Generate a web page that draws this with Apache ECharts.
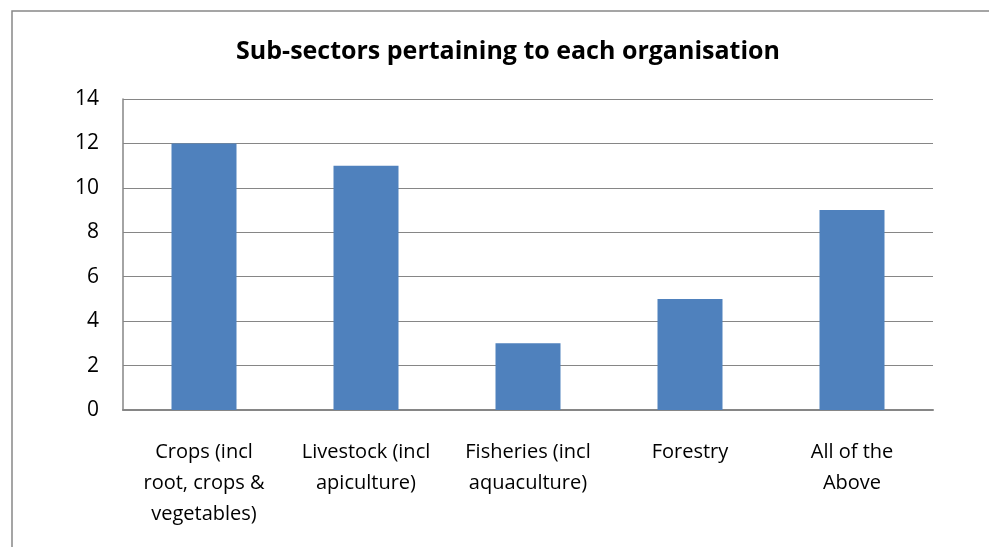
<!DOCTYPE html>
<html>
<head>
<meta charset="utf-8">
<script src="https://cdn.jsdelivr.net/npm/echarts@6/dist/echarts.min.js"></script>
<style>
  html, body { margin: 0; padding: 0; background: #fff; }
  #chart { width: 989px; height: 547px; }
</style>
</head>
<body>
<div id="chart"></div>
<script>
  // chart data
  const categories = [
    'Crops (incl\nroot, crops &\nvegetables)',
    'Livestock (incl\napiculture)',
    'Fisheries (incl\naquaculture)',
    'Forestry',
    'All of the\nAbove',
  ];
  const counts = [12, 11, 3, 5, 9];
  const titleText = 'Sub-sectors pertaining to each organisation';

  const chart = echarts.init(document.getElementById('chart'));

  const option = {
    animation: false,
    title: {
      text: titleText,
      left: 503,
      textAlign: 'center',
      top: 34,
      textStyle: {
        fontFamily: 'Open Sans',
        fontSize: 25,
        fontWeight: 'bold',
        color: '#000',
      },
    },
    graphic: [
      {
        type: 'rect',
        shape: { x: 12, y: 11, width: 1000, height: 600 },
        style: { fill: 'none', stroke: '#888', lineWidth: 1.5 },
        silent: true,
      },
    ],
    grid: {
      left: 123,
      right: 56,
      top: 99,
      bottom: 137,
    },
    xAxis: {
      type: 'category',
      data: categories,
      axisTick: { show: false },
      axisLine: { lineStyle: { color: '#868686', width: 2 } },
      axisLabel: {
        fontFamily: 'Open Sans',
        fontSize: 20,
        color: '#000',
        lineHeight: 31,
        margin: 27,
        interval: 0,
      },
    },
    yAxis: {
      type: 'value',
      min: 0,
      max: 14,
      interval: 2,
      axisLine: { show: true, lineStyle: { color: '#868686', width: 1.5 } },
      axisTick: { show: false },
      axisLabel: {
        fontFamily: 'Open Sans',
        fontSize: 21,
        color: '#000',
        margin: 24,
      },
      splitLine: { lineStyle: { color: '#868686', width: 1.2 } },
    },
    series: [
      {
        type: 'bar',
        data: counts,
        barWidth: 65,
        itemStyle: { color: '#4F81BD' },
      },
    ],
  };

  chart.setOption(option);
</script>
</body>
</html>
